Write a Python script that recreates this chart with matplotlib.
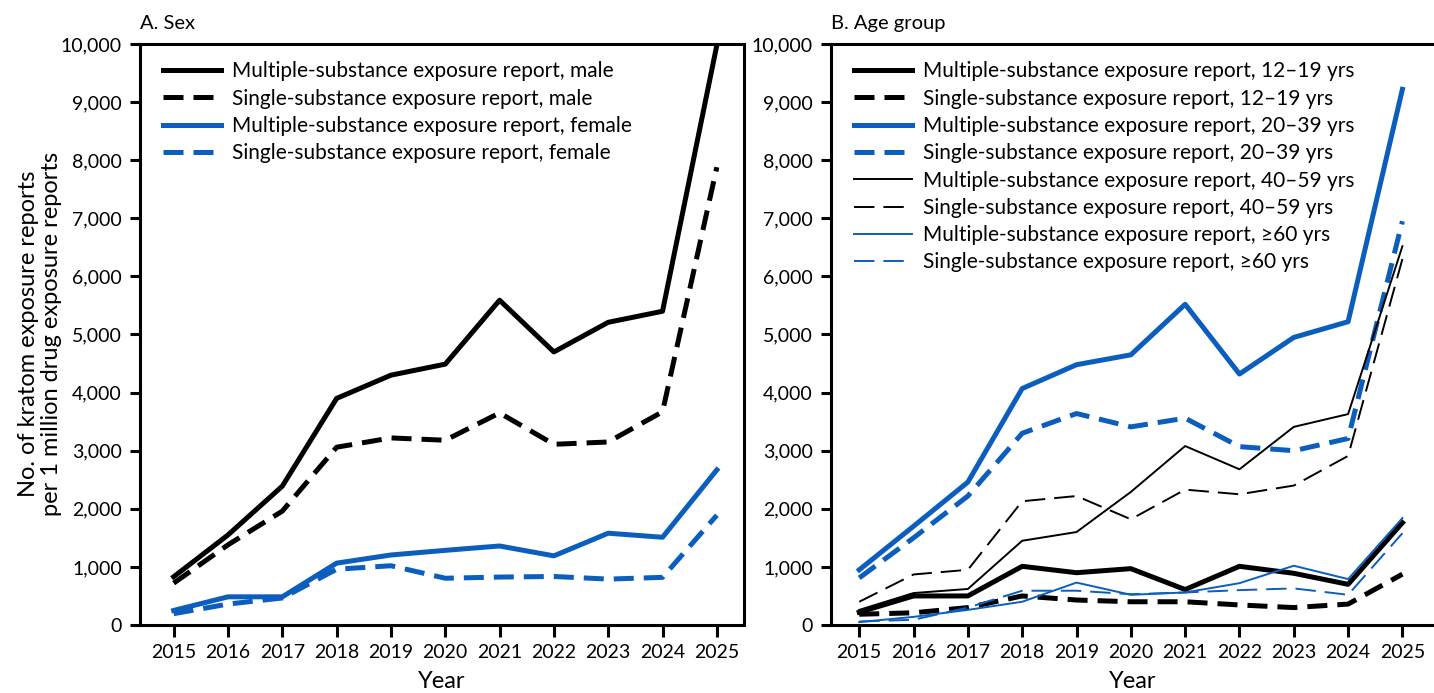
import matplotlib
matplotlib.use("Agg")
import matplotlib.pyplot as plt
from matplotlib.ticker import FuncFormatter

plt.rcParams['font.family'] = ['Lato', 'DejaVu Sans']

years = [2015, 2016, 2017, 2018, 2019, 2020, 2021, 2022, 2023, 2024, 2025]

# Panel A: Sex
multi_male = [830, 1550, 2390, 3900, 4300, 4490, 5590, 4700, 5210, 5400, 9980]
single_male = [720, 1380, 1960, 3060, 3220, 3180, 3650, 3110, 3150, 3670, 7880]
multi_female = [250, 485, 485, 1065, 1205, 1285, 1360, 1190, 1580, 1510, 2670]
single_female = [195, 360, 465, 960, 1020, 805, 825, 835, 790, 820, 1890]

# Panel B: Age group
multi_12_19 = [220, 500, 500, 1010, 900, 970, 610, 1010, 890, 700, 1760]
single_12_19 = [185, 210, 300, 500, 430, 400, 400, 345, 300, 360, 875]
multi_20_39 = [950, 1700, 2460, 4070, 4480, 4650, 5520, 4320, 4950, 5220, 9220]
single_20_39 = [810, 1500, 2220, 3300, 3640, 3410, 3560, 3070, 3000, 3210, 6950]
multi_40_59 = [260, 550, 620, 1450, 1600, 2290, 3080, 2680, 3410, 3630, 6520]
single_40_59 = [400, 870, 950, 2130, 2220, 1820, 2330, 2250, 2400, 2910, 6300]
multi_60 = [50, 140, 260, 400, 730, 520, 560, 720, 1020, 790, 1840]
single_60 = [60, 90, 300, 590, 590, 530, 560, 600, 630, 520, 1580]

labels_a = ["Multiple-substance exposure report, male",
            "Single-substance exposure report, male",
            "Multiple-substance exposure report, female",
            "Single-substance exposure report, female"]
labels_b = ["Multiple-substance exposure report, 12\u201319 yrs",
            "Single-substance exposure report, 12\u201319 yrs",
            "Multiple-substance exposure report, 20\u201339 yrs",
            "Single-substance exposure report, 20\u201339 yrs",
            "Multiple-substance exposure report, 40\u201359 yrs",
            "Single-substance exposure report, 40\u201359 yrs",
            "Multiple-substance exposure report, \u226560 yrs",
            "Single-substance exposure report, \u226560 yrs"]

BLACK = "#000000"
BLUE = "#0b5ebd"
THICK = 3.6
THIN = 1.4
dash_thick = (0, (4.0, 2.0))
dash_thin = (0, (10.5, 4.6))
TFS = 14     # tick labels
TTL = 14.5   # panel titles
LFS = 15     # legend
AFS = 17     # axis labels

W, H = 1434, 693
fig = plt.figure(figsize=(W / 100, H / 100), dpi=100)
bottom = 1 - 625 / H
height = 581 / H
axA = fig.add_axes([140 / W, bottom, 604 / W, height])
axB = fig.add_axes([831 / W, bottom, 604 / W, height])

axA.plot(years, multi_male, color=BLACK, lw=THICK, ls='-', label=labels_a[0])
axA.plot(years, single_male, color=BLACK, lw=THICK, ls=dash_thick, label=labels_a[1])
axA.plot(years, multi_female, color=BLUE, lw=THICK, ls='-', label=labels_a[2])
axA.plot(years, single_female, color=BLUE, lw=THICK, ls=dash_thick, label=labels_a[3])

axB.plot(years, multi_12_19, color=BLACK, lw=THICK, ls='-', label=labels_b[0])
axB.plot(years, single_12_19, color=BLACK, lw=THICK, ls=dash_thick, label=labels_b[1])
axB.plot(years, multi_20_39, color=BLUE, lw=THICK, ls='-', label=labels_b[2])
axB.plot(years, single_20_39, color=BLUE, lw=THICK, ls=dash_thick, label=labels_b[3])
axB.plot(years, multi_40_59, color=BLACK, lw=THIN, ls='-', label=labels_b[4])
axB.plot(years, single_40_59, color=BLACK, lw=THIN, ls=dash_thin, label=labels_b[5])
axB.plot(years, multi_60, color=BLUE, lw=THIN, ls='-', label=labels_b[6])
axB.plot(years, single_60, color=BLUE, lw=THIN, ls=dash_thin, label=labels_b[7])

fmt = FuncFormatter(lambda v, p: f"{int(v):,}")
for ax, xl, title in [(axA, 2014.38, "A. Sex"), (axB, 2014.48, "B. Age group")]:
    ax.set_xlim(xl, xl + 11.12)
    ax.set_ylim(0, 10000)
    ax.set_xticks(years)
    ax.set_xticklabels([str(y) for y in years])
    ax.set_yticks(range(0, 10001, 1000))
    ax.yaxis.set_major_formatter(fmt)
    for s in ax.spines.values():
        s.set_linewidth(2.2)
    ax.tick_params(axis='x', direction='out', length=8.5, width=2.2, pad=5.5, labelsize=TFS)
    ax.tick_params(axis='y', direction='out', length=7, width=2.2, pad=6, labelsize=TFS)
    ax.set_xlabel("Year", fontsize=AFS, labelpad=7)
    ax.set_title(title, loc='left', fontsize=TTL, pad=11)
    ax.legend(loc='upper left', bbox_to_anchor=(0.038, 0.970), frameon=False,
              fontsize=LFS, handlelength=2.8, handletextpad=0.5,
              labelspacing=0.35, borderaxespad=0, borderpad=0)

fig.text(40 / W, 1 - 334 / H,
         "No. of kratom exposure reports\nper 1 million drug exposure reports",
         rotation=90, ha='center', va='center', multialignment='center',
         fontsize=AFS, linespacing=1.1)

fig.savefig("out.png", dpi=100)
